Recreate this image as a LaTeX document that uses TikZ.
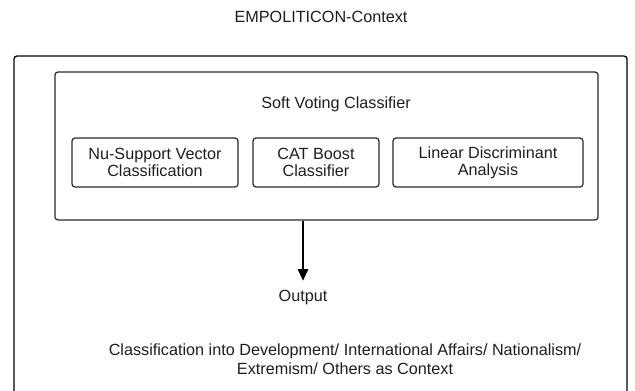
\documentclass[tikz,border=0pt]{standalone}
\usepackage{fontspec}
\setmainfont{Liberation Sans}
\usetikzlibrary{arrows.meta,positioning}
\definecolor{ink}{HTML}{1E1E1E}
\definecolor{edge}{HTML}{2A2A2A}
\tikzset{
  lbl/.style={font=\fontsize{16.2}{19}\selectfont, text=ink, inner sep=0pt, align=center},
  panel/.style={draw=edge, line width=1.2pt, rounded corners=3pt},
  algbox/.style={panel, font=\fontsize{16.2}{17}\selectfont, text=ink, align=center, inner sep=0pt},
  flow/.style={draw=black, line width=2.8pt, -{Triangle[length=12pt,width=10pt]}}
}
\begin{document}
\begin{tikzpicture}[x=1pt,y=-1pt]
\useasboundingbox (0,0) rectangle (635,391);
\clip (0,0) rectangle (635,391);
\node[lbl] (title) at (321,17) {EMPOLITICON-Context};
\draw[panel, draw=black, line width=1.3pt] (14,56) rectangle (627,420);
\node[panel, minimum width=543pt, minimum height=148pt, inner sep=0pt] (inner) at (326.5,146) {};
\node[lbl] (svc) at (336,104) {Soft Voting Classifier};
\node[algbox, minimum width=166pt, minimum height=49pt] (nusvc) at (155,162.5) {Nu-Support Vector\\Classification};
\node[algbox, minimum width=126pt, minimum height=49pt] (cat) at (316,162.5) {CAT Boost\\Classifier};
\node[algbox, minimum width=190pt, minimum height=49pt] (lda) at (488,162.5) {Linear Discriminant\\Analysis};
\node[lbl, anchor=north, inner sep=0pt] (output) at (303,290) {Output};
\draw[flow] (output.north |- inner.south) -- ([yshift=9pt]output.north);
\node[lbl] (cls) at (345,359) {Classification into Development/ International Affairs/ Nationalism/\\Extremism/ Others as Context};
\end{tikzpicture}
\end{document}
